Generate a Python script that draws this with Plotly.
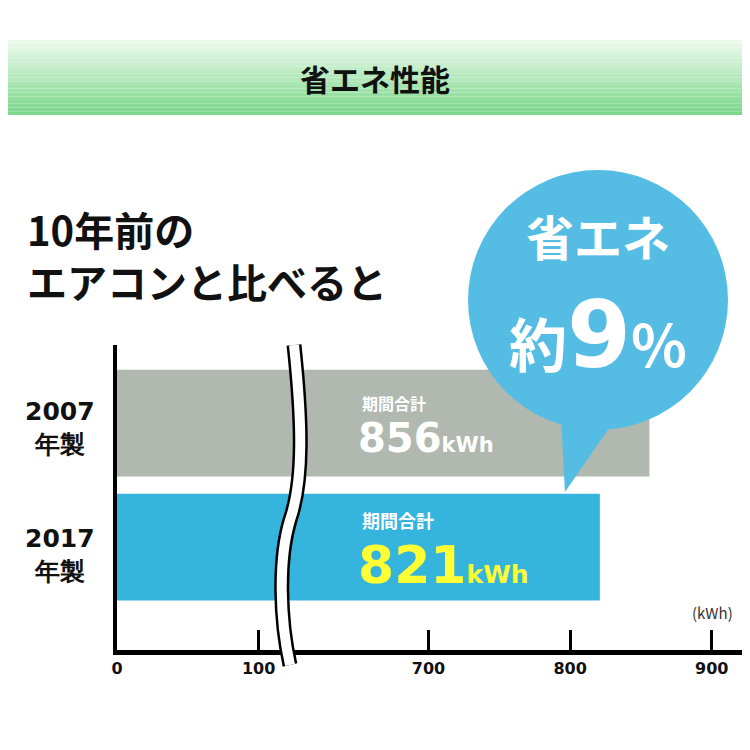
import plotly.graph_objects as go

years = ["2017<br>年製", "2007<br>年製"]
usage = [821, 856]
bar_colors = ["#35b5dd", "#b0b8b0"]
tick_vals = [0, 100, 700, 800, 900]
BREAK_SHIFT = 480  # values above the axis break are shifted left


def disp(v):
    return v if v <= 150 else v - BREAK_SHIFT


O = 8  # page body margin
W = H = 750
L, R, T, B = 117 - O, 10 - O, 345 - O, 100 + O
PW, PH = W - L - R, H - T - B


def px(x):
    return (x - O - L) / PW


def py(y):
    return (H - B - (y - O)) / PH


FONT = "Noto Sans CJK JP"
NUM = "DejaVu Sans"
fig = go.Figure()
fig.add_trace(go.Bar(
    y=[0, 1], x=[disp(v) for v in usage], orientation="h",
    marker=dict(color=bar_colors, line_width=0), width=0.86,
    hoverinfo="skip"))

shapes = []
# header gradient band
n = 20
for i in range(n):
    t = i / (n - 1)
    g = (int(235 - 110 * t), int(250 - 35 * t), int(235 - 95 * t))
    shapes.append(dict(type="rect", xref="paper", yref="paper",
                       x0=px(0), x1=px(760), y0=py(40 + 75 * i / n), y1=py(40 + 75 * (i + 1) / n),
                       fillcolor="rgb(%d,%d,%d)" % g, line_width=0, layer="below"))

# axis break: two wavy lines
def wave(dx):
    pts = [(292 + dx, 345), (300 + dx, 420), (302 + dx, 480), (288 + dx, 520),
           (276 + dx, 560), (278 + dx, 620), (288 + dx, 665)]
    p = "M %f,%f" % (px(pts[0][0]), py(pts[0][1]))
    p += " C %f,%f %f,%f %f,%f" % (px(pts[1][0]), py(pts[1][1]), px(pts[2][0]), py(pts[2][1]), px(pts[3][0]), py(pts[3][1]))
    p += " C %f,%f %f,%f %f,%f" % (px(pts[4][0]), py(pts[4][1]), px(pts[5][0]), py(pts[5][1]), px(pts[6][0]), py(pts[6][1]))
    return p

shapes.append(dict(type="path", xref="paper", yref="paper", path=wave(2), line=dict(color="black", width=15)))
shapes.append(dict(type="path", xref="paper", yref="paper", path=wave(2), line=dict(color="white", width=10)))

# speech bubble
cx, cy, r = 598, 300, 130
shapes.append(dict(type="path", xref="paper", yref="paper",
                   path="M %f,%f L %f,%f L %f,%f Z" % (px(560), py(400), px(565), py(492), px(625), py(405)),
                   fillcolor="#55bde3", line_width=0))
shapes.append(dict(type="circle", xref="paper", yref="paper",
                   x0=px(cx - r), x1=px(cx + r), y0=py(cy + r), y1=py(cy - r),
                   fillcolor="#55bde3", line_width=0))

ann = [
    dict(x=px(375), y=py(78), text="<b>省エネ性能</b>", font=dict(size=30, color="#111")),
    dict(x=px(25), y=py(255), text="<b>10年前の<br>エアコンと比べると</b>", xanchor="left", align="left",
         font=dict(size=40, color="#111")),
    dict(x=px(598), y=py(235), text="<b>省エネ</b>", font=dict(size=48, color="white")),
    dict(x=px(598), y=py(335), text="<b>約<span style='font-size:92px;font-family:DejaVu Sans'>9</span>%</b>",
         font=dict(size=58, color="white")),
    dict(x=px(60), y=py(428), text="<b>2007<br>年製</b>", font=dict(size=25, color="#111", family=NUM)),
    dict(x=px(60), y=py(555), text="<b>2017<br>年製</b>", font=dict(size=25, color="#111", family=NUM)),
    dict(x=px(360), y=py(403), text="<b>期間合計</b>", xanchor="left", font=dict(size=16, color="white")),
    dict(x=px(356), y=py(438), text="<b>856<span style='font-size:21px'>kWh</span></b>", xanchor="left",
         font=dict(size=40, color="white", family=NUM)),
    dict(x=px(360), y=py(520), text="<b>期間合計</b>", xanchor="left", font=dict(size=18, color="white")),
    dict(x=px(356), y=py(565), text="<b>821<span style='font-size:25px'>kWh</span></b>", xanchor="left",
         font=dict(size=52, color="#ffff33", family=NUM)),
    dict(x=px(712), y=py(612), text="(kWh)", font=dict(size=15, color="#333")),
]
for a in ann:
    a.setdefault("xanchor", "center")
    a.update(xref="paper", yref="paper", showarrow=False, yanchor="middle")
fig.update_layout(
    width=W, height=H, margin=dict(l=L, r=R, t=T, b=B),
    plot_bgcolor="white", paper_bgcolor="white", showlegend=False,
    font=dict(family=FONT), shapes=shapes, annotations=ann,
    xaxis=dict(range=[0, PW / 1.416], tickvals=[disp(v) for v in tick_vals],
               ticktext=["<b>%d</b>" % v for v in tick_vals], ticks="inside", ticklen=20,
               tickwidth=3, tickcolor="black", showgrid=False, zeroline=False,
               showline=True, linewidth=5, linecolor="black",
               tickfont=dict(size=16, color="#111", family=NUM)),
    yaxis=dict(range=[-0.83, 1.63], showticklabels=False, showgrid=False, zeroline=False,
               showline=True, linewidth=4, linecolor="black", ticks=""),
)
fig.write_html("out.html")
